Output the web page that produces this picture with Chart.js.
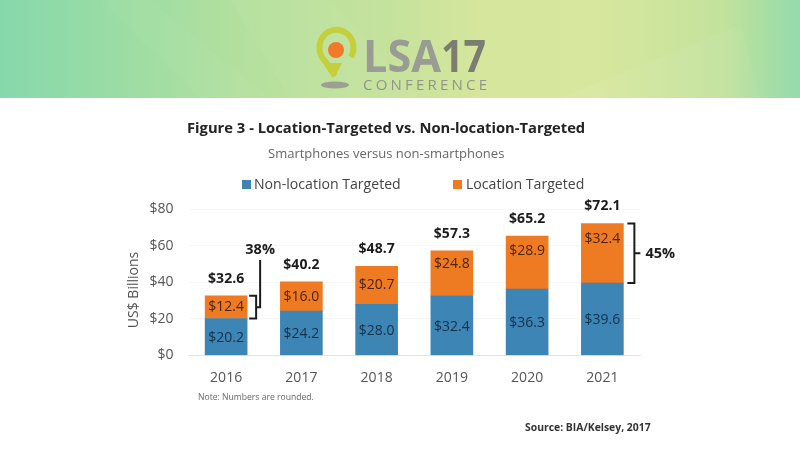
<!DOCTYPE html>
<html>
<head>
<meta charset="utf-8">
<script src="https://cdn.jsdelivr.net/npm/chart.js@4"></script>
<style>
  html, body { margin: 0; padding: 0; background: #fff; }
  body { width: 800px; height: 450px; position: relative; overflow: hidden; font-family: 'Open Sans', sans-serif; }
  #header { position: absolute; left: 0; top: 0; width: 800px; height: 98px; background: linear-gradient(90deg, #86d8ac 0%, #9adca4 14%, #b6e09e 32%, #c4e29c 48%, #d6e69c 60%, #d8e79e 74%, #c4e29c 90%, #94dbab 100%); }
  #header svg { position: absolute; left: 0; top: 0; filter: blur(0.6px); }
  #chart { position: absolute; left: 0; top: 0; width: 800px; height: 450px; }
  .txt { position: absolute; white-space: nowrap; }
  #title { left: 187px; top: 117px; font-size: 14.75px; font-weight: 700; color: #222; }
  #subtitle { left: 268px; top: 144px; font-size: 13px; color: #666; }
  .swatch { position: absolute; width: 9px; height: 9px; top: 180px; }
  .legend { top: 174px; font-size: 14.1px; color: #444; }
  #note { left: 198px; top: 391px; font-size: 8.6px; color: #666; }
  #source { left: 525px; top: 420px; font-size: 10.4px; font-weight: 700; color: #333; }
</style>
</head>
<body>
<div id="header">
  <svg width="800" height="98" viewBox="0 0 800 98">
    <path d="M150 0 L270 98 L200 98 L100 0 Z" fill="#ffffff" opacity="0.03"/>
    <path d="M230 0 L290 98 L420 98 L330 0 Z" fill="#ffffff" opacity="0.04"/>
    <path d="M560 98 L740 25 L760 98 Z" fill="#ffffff" opacity="0.05"/>
    <ellipse cx="335" cy="85" rx="14" ry="3.5" fill="#9c9f92"/>
    <path d="M335 76 L325 61 A17 18 0 1 1 351 57" fill="none" stroke="#c5cf3b" stroke-width="6"/>
    <path d="M335 77 L328 63 L342 63 Z" fill="#c5cf3b"/>
    <circle cx="336" cy="50" r="8" fill="#f07a2a"/>
    <text x="363" y="72" font-family="Open Sans" font-weight="700" font-size="45" fill="#999c92" textLength="78" lengthAdjust="spacingAndGlyphs">LSA</text>
    <text x="441" y="72" font-family="Open Sans" font-weight="700" font-size="45" fill="#7b7d70" textLength="45" lengthAdjust="spacingAndGlyphs">17</text>
    <text x="363" y="90" font-family="Open Sans" font-size="15" fill="#929588" textLength="124">CONFERENCE</text>
  </svg>
</div>
<canvas id="chart" width="800" height="450"></canvas>
<div class="txt" id="title">Figure 3 - Location-Targeted vs. Non-location-Targeted</div>
<div class="txt" id="subtitle">Smartphones versus non-smartphones</div>
<div class="swatch" style="left:242px;background:#3d85b5"></div>
<div class="txt legend" style="left:254px">Non-location Targeted</div>
<div class="swatch" style="left:453px;background:#ee7a22"></div>
<div class="txt legend" style="left:466px">Location Targeted</div>
<div class="txt" id="note">Note: Numbers are rounded.</div>
<div class="txt" id="source">Source: BIA/Kelsey, 2017</div>
<script>
const years = ['2016', '2017', '2018', '2019', '2020', '2021'];
const nonLocation = [20.2, 24.2, 28.0, 32.4, 36.3, 39.6];
const location_ = [12.4, 16.0, 20.7, 24.8, 28.9, 32.4];
const totals = [32.6, 40.2, 48.7, 57.3, 65.2, 72.1];

const BLUE = '#3d85b5', ORANGE = '#ee7a22', INK = '#1c1c1c';
// orange labels sit above centre on the taller bars
const orangeShift = [0, 0, 0, -9, -12, -14];

function money(v) { return '$' + v.toFixed(1); }

const labelsPlugin = {
  id: 'barLabels',
  afterDatasetsDraw(chart) {
    const { ctx, scales: { x, y } } = chart;
    ctx.save();
    ctx.textAlign = 'center';
    ctx.textBaseline = 'middle';
    years.forEach((yr, i) => {
      const cx = x.getPixelForValue(i);
      ctx.font = "14px 'Open Sans'";
      ctx.fillStyle = '#14324a';
      ctx.fillText(money(nonLocation[i]), cx, y.getPixelForValue(nonLocation[i] / 2) + 1);
      ctx.fillStyle = '#4a2410';
      ctx.fillText(money(location_[i]), cx, y.getPixelForValue(nonLocation[i] + location_[i] / 2) + orangeShift[i]);
      ctx.font = "bold 14px 'Open Sans'";
      ctx.fillStyle = INK;
      ctx.fillText(money(totals[i]), cx, y.getPixelForValue(totals[i]) - 17);
    });

    // share brackets
    ctx.strokeStyle = INK;
    ctx.lineWidth = 2;
    const x0 = x.getPixelForValue(0) + 23;
    const top0 = y.getPixelForValue(totals[0]), bot0 = y.getPixelForValue(nonLocation[0]);
    ctx.beginPath();
    ctx.moveTo(x0, top0); ctx.lineTo(x0 + 7, top0); ctx.lineTo(x0 + 7, bot0); ctx.lineTo(x0, bot0);
    ctx.moveTo(x0 + 7, (top0 + bot0) / 2); ctx.lineTo(x0 + 11, (top0 + bot0) / 2); ctx.lineTo(x0 + 11, 260);
    ctx.stroke();

    const x5 = x.getPixelForValue(5) + 25;
    const top5 = y.getPixelForValue(totals[5]), bot5 = y.getPixelForValue(nonLocation[5]);
    ctx.beginPath();
    ctx.moveTo(x5, top5); ctx.lineTo(x5 + 7, top5); ctx.lineTo(x5 + 7, bot5); ctx.lineTo(x5, bot5);
    ctx.moveTo(x5 + 7, (top5 + bot5) / 2); ctx.lineTo(x5 + 13, (top5 + bot5) / 2);
    ctx.stroke();

    ctx.font = "bold 14.5px 'Open Sans'";
    ctx.fillStyle = INK;
    ctx.fillText('38%', x0 + 11, 250);
    ctx.textAlign = 'left';
    ctx.fillText('45%', x5 + 18, (top5 + bot5) / 2 + 1);

    // axis title sits a little below the axis middle
    ctx.translate(134, 290);
    ctx.rotate(-Math.PI / 2);
    ctx.textAlign = 'center';
    ctx.font = "14px 'Open Sans'";
    ctx.fillStyle = '#555';
    ctx.fillText('US$ Billions', 0, 0);
    ctx.restore();
  }
};

new Chart(document.getElementById('chart'), {
  type: 'bar',
  data: {
    labels: years,
    datasets: [
      { label: 'Non-location Targeted', data: nonLocation, backgroundColor: BLUE, barThickness: 42 },
      { label: 'Location Targeted', data: location_, backgroundColor: ORANGE, barThickness: 42 }
    ]
  },
  options: {
    responsive: false,
    animation: false,
    layout: { padding: { left: 0, top: 209, right: 160, bottom: 0 } },
    plugins: { legend: { display: false }, tooltip: { enabled: false } },
    scales: {
      x: {
        stacked: true,
        afterFit(s) { s.height = 94.5; },
        grid: { display: false },
        border: { color: '#e4e4e4' },
        ticks: { color: '#555', font: { family: 'Open Sans', size: 14 }, padding: 6, maxRotation: 0 }
      },
      y: {
        stacked: true,
        min: 0,
        max: 80,
        afterFit(s) { s.width = 188.5; },
        grid: { color: '#f6f6f6', drawTicks: false },
        border: { display: false },
        ticks: { stepSize: 20, color: '#555', padding: 15, font: { family: 'Open Sans', size: 14 }, callback: v => '$' + v }
      }
    }
  },
  plugins: [labelsPlugin]
});
</script>
</body>
</html>
